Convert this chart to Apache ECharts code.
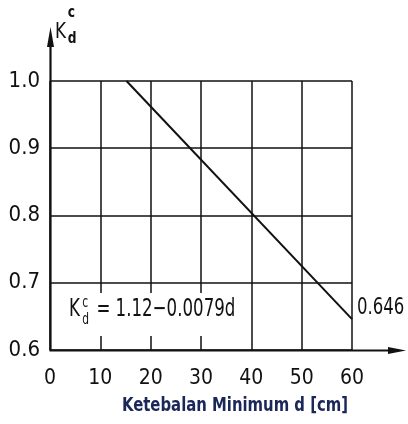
<!DOCTYPE html>
<html><head><meta charset="utf-8">
<script src="https://cdn.jsdelivr.net/npm/echarts@6/dist/echarts.min.js"></script>
<style>html,body{margin:0;padding:0;background:#fff}#c{width:408px;height:424px}</style>
</head><body><div id="c"></div>
<script>
const thickness = [15.2, 60];
const kValues = [1.0, 0.646];
const xTicks = [0, 10, 20, 30, 40, 50, 60];
const yTicks = [0.6, 0.7, 0.8, 0.9, 1.0];
const endLabel = '0.646';
const xTitle = 'Ketebalan Minimum d [cm]';
const formulaText = '= 1.12\u22120.0079d';

const FONT = '"Liberation Sans Narrow", "DejaVu Sans Condensed", Arial, sans-serif';
const INK = '#111';
const G = {left: 50, top: 81, width: 302, height: 269};

const chart = echarts.init(document.getElementById('c'));
chart.setOption({
  animation: false,
  backgroundColor: '#fff',
  grid: {left: G.left, top: G.top, width: G.width, height: G.height, show: false},
  xAxis: {
    type: 'value', min: xTicks[0], max: xTicks[xTicks.length-1], interval: 10,
    axisLine: {show: false}, axisTick: {show: false},
    splitLine: {show: true, lineStyle: {color: INK, width: 1.5}},
    axisLabel: {fontFamily: FONT, fontSize: 21, color: INK, margin: 18, showMinLabel: true, showMaxLabel: true}
  },
  yAxis: {
    type: 'value', min: yTicks[0], max: yTicks[yTicks.length-1], interval: 0.1,
    axisLine: {show: false}, axisTick: {show: false},
    splitLine: {show: true, lineStyle: {color: INK, width: 1.5}},
    axisLabel: {fontFamily: FONT, fontSize: 22, color: INK, margin: 10, formatter: v => v.toFixed(1)}
  },
  series: [{
    type: 'line',
    data: thickness.map((d, i) => [d, kValues[i]]),
    symbol: 'none',
    lineStyle: {color: INK, width: 2},
    z: 3
  }]
});

const endPt = chart.convertToPixel({seriesIndex: 0}, [thickness[thickness.length-1], kValues[kValues.length-1]]);

chart.setOption({
  graphic: [
    // formula box
    {type: 'rect', shape: {x: 56, y: 293, width: 190, height: 43}, style: {fill: '#fff'}, z: 10},
    {type: 'group', x: 69, y: 322, scaleX: 0.74, z: 11, children: [
      {type: 'text', x: 0, y: 0, style: {text: 'K', fontFamily: FONT, fontSize: 25, fill: INK, textVerticalAlign: 'bottom'}, z: 11},
      {type: 'text', x: 18, y: -11, style: {text: 'c', fontFamily: FONT, fontSize: 16, fill: INK, textVerticalAlign: 'bottom'}, z: 11},
      {type: 'text', x: 18, y: 6, style: {text: 'd', fontFamily: FONT, fontSize: 16, fill: INK, textVerticalAlign: 'bottom'}, z: 11},
      {type: 'text', x: 37, y: 0, style: {text: formulaText, fontFamily: FONT, fontSize: 25, fill: INK, textVerticalAlign: 'bottom'}, z: 11}
    ]},
    // axes with arrows
    {type: 'line', shape: {x1: 50.5, y1: 350.5, x2: 50.5, y2: 44}, style: {stroke: INK, lineWidth: 2.2}, z: 12},
    {type: 'polygon', shape: {points: [[50.5, 27], [47, 47], [54, 47]]}, style: {fill: INK}, z: 12},
    {type: 'line', shape: {x1: 49.5, y1: 350.5, x2: 392, y2: 350.5}, style: {stroke: INK, lineWidth: 2.2}, z: 12},
    {type: 'polygon', shape: {points: [[406, 350.5], [388, 347], [388, 354]]}, style: {fill: INK}, z: 12},
    // y-axis name K_d^c
    {type: 'group', x: 55, y: 43, scaleX: 0.85, z: 11, children: [
      {type: 'text', x: 0, y: 0, style: {text: 'K', fontFamily: FONT, fontSize: 22, fill: INK, textVerticalAlign: 'bottom'}, z: 11},
      {type: 'text', x: 15, y: -22, style: {text: 'c', fontFamily: FONT, fontSize: 16, fontWeight: 'bold', fill: INK, textVerticalAlign: 'bottom'}, z: 11},
      {type: 'text', x: 15, y: 4, style: {text: 'd', fontFamily: FONT, fontSize: 16, fontWeight: 'bold', fill: INK, textVerticalAlign: 'bottom'}, z: 11}
    ]},
    // end value label
    {type: 'text', x: endPt[0] + 5, y: endPt[1] - 11, scaleX: 0.8, style: {text: endLabel, fontFamily: FONT, fontSize: 23, fill: INK, textVerticalAlign: 'middle'}, z: 11},
    // x-axis title
    {type: 'text', x: 235, y: 406, scaleX: 0.87, style: {text: xTitle, fontFamily: FONT, fontSize: 19, fontWeight: 'bold', fill: '#1b2659', textAlign: 'center', textVerticalAlign: 'middle'}, z: 11}
  ]
});
</script></body></html>
